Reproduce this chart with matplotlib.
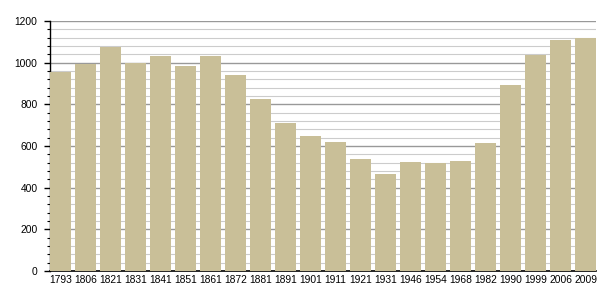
import numpy as np
import matplotlib.pyplot as plt
from matplotlib.ticker import MultipleLocator

# population par recensement
years = ["1793", "1806", "1821", "1831", "1841", "1851", "1861", "1872", "1881", "1891",
         "1901", "1911", "1921", "1931", "1946", "1954", "1968", "1982", "1990", "1999",
         "2006", "2009"]
population = [955, 992, 1077, 998, 1030, 982, 1030, 939, 824, 709,
              648, 618, 536, 464, 522, 520, 526, 613, 891, 1038,
              1107, 1118]

bar_color = "#c9bf98"
w = 0.83

fig = plt.figure(figsize=(6.05, 3.0), dpi=100)
ax = fig.add_axes([50 / 605, 29 / 300, 546 / 605, 250 / 300])

x = np.arange(len(years))
ax.bar(x, population, width=w, color=bar_color, zorder=3)

ax.set_xlim(-w / 2, len(years) - 1 + w / 2)
ax.set_ylim(0, 1200)
ax.yaxis.set_major_locator(MultipleLocator(200))
ax.yaxis.set_minor_locator(MultipleLocator(40))
ax.grid(which="major", axis="y", color="#999999", linewidth=1.0, zorder=1)
ax.grid(which="minor", axis="y", color="#cccccc", linewidth=0.8, zorder=1)

ax.set_xticks(x)
ax.set_xticklabels(years)
for s in ["top", "right"]:
    ax.spines[s].set_visible(False)
ax.spines["left"].set_linewidth(1.0)
ax.spines["bottom"].set_linewidth(1.2)

ax.tick_params(axis="x", length=0, pad=3, labelsize=7.4)
ax.tick_params(axis="y", which="major", length=4, width=1, pad=5, labelsize=7.4)
ax.tick_params(axis="y", which="minor", length=2.5, width=0.8)
for lab in ax.get_xticklabels() + ax.get_yticklabels():
    lab.set_fontfamily("Liberation Sans")

fig.savefig("out.png", dpi=100)
